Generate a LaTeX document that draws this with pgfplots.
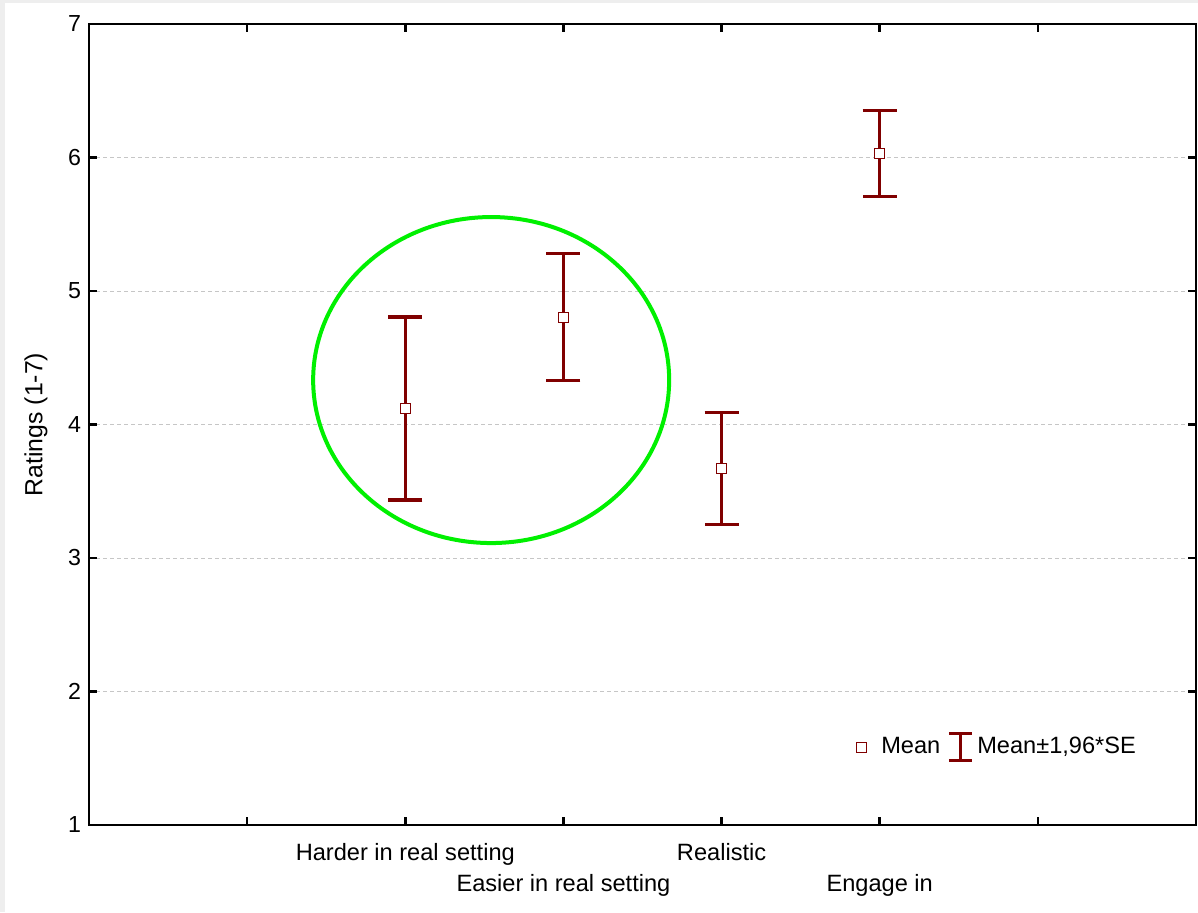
\documentclass[border=0pt]{standalone}
\usepackage{pgfplots}
\pgfplotsset{compat=1.18}
\usepackage{pgfplotstable}
\usepackage{fontspec}
\setmainfont{Liberation Sans}
\definecolor{darkred}{RGB}{128,0,0}
\definecolor{framegray}{RGB}{238,238,238}
\definecolor{ellgreen}{RGB}{0,240,0}
\pgfplotstableread{
x y err
2 4.12 0.685
3 4.805 0.475
4 3.67 0.42
5 6.03 0.32
}\ratings
\begin{document}
\begin{tikzpicture}
\fill[framegray] (0,0) rectangle (599pt,456pt);
\fill[white] (2.5pt,0) rectangle (599pt,454.5pt);
\begin{axis}[
  at={(44.5pt,43.5pt)}, anchor=south west,
  scale only axis, width=553.5pt, height=400.5pt,
  xmin=0, xmax=7, ymin=1, ymax=7,
  xtick={1,2,3,4,5,6},
  xticklabels={,Harder in real setting,{\strut\\[-3pt]Easier in real setting},Realistic,{\strut\\[-3pt]Engage in},},
  ytick={1,2,3,4,5,6,7},
  yticklabels={1,2,3,4,5,6,7},
  tick align=inside,
  major tick length=4pt,
  axis line style={line width=1.4pt},
  every tick/.style={black, line width=1.3pt},
  ymajorgrids,
  grid style={gray!45, line width=0.5pt, dash pattern=on 2pt off 1.5pt},
  /pgf/number format/assume math mode=true,
  yticklabel style={font=\fontsize{11.6}{14}\selectfont, xshift=-0.5pt},
  xticklabel style={align=center, font=\fontsize{11.8}{16}\selectfont, yshift=-5.5pt},
  ylabel={Ratings (1-7)},
  every axis y label/.style={at={(axis description cs:-0.048,0.5)}, rotate=90, anchor=center, font=\fontsize{12.4}{14}\selectfont},
  legend columns=2,
  legend style={at={(axis cs:4.808,1.584)}, anchor=west, draw=none, fill=none,
    font=\fontsize{11.8}{14}\selectfont,
    /tikz/every even column/.append style={column sep=1.5pt}},
  legend cell align=left,
]
\addplot[darkred, only marks, mark=none, forget plot,
  error bars/.cd, y dir=both, y explicit,
  error bar style={line width=1.6pt, darkred},
  error mark options={line width=1.6pt, darkred, mark size=8.5pt, rotate=90}]
  table[x=x, y=y, y error=err] {\ratings};
\addplot[only marks, mark=square*, mark size=2.5pt,
  mark options={fill=white, draw=darkred, line width=0.5pt}, forget plot]
  table[x=x, y=y] {\ratings};
\draw[ellgreen, line width=2pt] (axis cs:2.543,4.333) ellipse [x radius=89pt, y radius=81.5pt];
\addlegendimage{legend image code/.code={\path[draw=none] (-2.5pt,0) -- (8pt,0); \draw[darkred, fill=white, line width=0.5pt] (-2.5pt,-2.5pt) rectangle (2.5pt,2.5pt);}}
\addlegendentry{Mean}
\addlegendimage{legend image code/.code={\draw[darkred, line width=1.5pt] (0,-6.75pt)--(0,6.75pt) (-5.75pt,6.75pt)--(5.75pt,6.75pt) (-5.75pt,-6.75pt)--(5.75pt,-6.75pt);}}
\addlegendentry{Mean±1,96*SE}
\end{axis}
\end{tikzpicture}
\end{document}
